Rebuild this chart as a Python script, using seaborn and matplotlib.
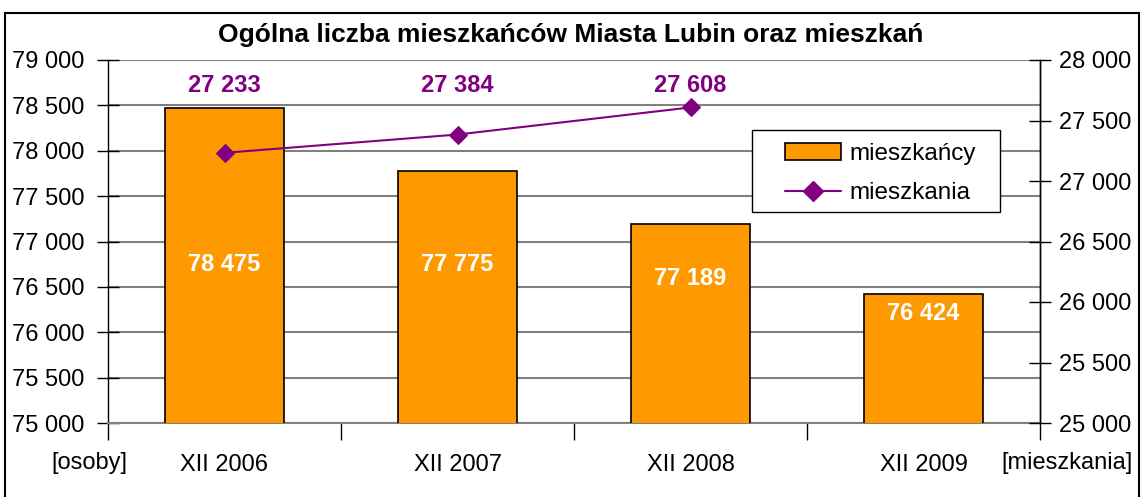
import matplotlib
matplotlib.use("Agg")
import matplotlib.pyplot as plt
import seaborn as sns
import pandas as pd
from matplotlib.patches import Rectangle
from matplotlib.lines import Line2D
from matplotlib.ticker import FuncFormatter, MultipleLocator, FixedLocator

categories = ["XII 2006", "XII 2007", "XII 2008", "XII 2009"]
mieszkancy = [78475, 77775, 77189, 76424]
mieszkania_cat = ["XII 2006", "XII 2007", "XII 2008"]
mieszkania = [27233, 27384, 27608]

title = "Ogólna liczba mieszkańców Miasta Lubin oraz mieszkań"
left_label = "[osoby]"
right_label = "[mieszkania]"

sns.set_theme(style="white")
plt.rcParams["font.family"] = ["Liberation Sans", "DejaVu Sans"]
plt.rcParams["text.color"] = "black"
plt.rcParams["xtick.color"] = "black"
plt.rcParams["ytick.color"] = "black"
plt.rcParams["axes.labelcolor"] = "black"

ORANGE = "#FF9900"
PURPLE = "#800080"
FS = 17
W, H = 1141, 497

fig = plt.figure(figsize=(W / 100, H / 100), dpi=100)
fig.patch.set_facecolor("white")
fig.add_artist(Rectangle((5 / W, -0.01), 1134 / W, 1 - 13 / H + 0.01,
                         transform=fig.transFigure, fill=False, edgecolor="black", lw=1.5))

ax = fig.add_axes([108 / W, 1 - 423 / H, (1040 - 108) / W, (423 - 60) / H])
df = pd.DataFrame({"kat": categories, "val": mieszkancy})
sns.barplot(data=df, x="kat", y="val", ax=ax, color=ORANGE, width=0.51,
            edgecolor="black", linewidth=1.2, saturation=1, zorder=3)
ax.set_ylim(75000, 79000)
ax.set_xlim(-0.5, 3.5)
ax.yaxis.set_major_locator(MultipleLocator(500))
fmt = FuncFormatter(lambda v, p: f"{int(v):,}".replace(",", " "))
ax.yaxis.set_major_formatter(fmt)
ax.grid(axis="y", color="#808080", lw=1.5, zorder=0)
ax.set_axisbelow(True)
ax.set_xlabel("")
ax.set_ylabel("")
ax.spines["top"].set_visible(False)
for s in ["left", "right"]:
    ax.spines[s].set_color("black")
    ax.spines[s].set_linewidth(1)
ax.spines["bottom"].set_color("#808080")
ax.spines["bottom"].set_linewidth(1.5)

ax.xaxis.set_major_locator(FixedLocator([-0.5, 0.5, 1.5, 2.5, 3.5]))
ax.xaxis.set_minor_locator(FixedLocator(list(range(len(categories)))))
ax.xaxis.set_major_formatter(FuncFormatter(lambda v, p: ""))
ax.xaxis.set_minor_formatter(FuncFormatter(lambda v, p: categories[int(round(v))]))
ax.tick_params(axis="x", which="major", direction="out", length=12, width=1, color="black", bottom=True)
ax.tick_params(axis="x", which="minor", length=0, pad=22, labelsize=FS)
ax.tick_params(axis="y", which="major", direction="inout", length=16, width=1, color="black",
               left=True, labelsize=FS, pad=9)

for i, v in enumerate(mieszkancy):
    ymid = min((75000 + v) / 2 + 500, 76750)
    ax.text(i, ymid, f"{v:,}".replace(",", " "), ha="center", va="center",
            color="white", fontsize=FS, fontweight="bold", zorder=5)

ax2 = ax.twinx()
ax2.set_position(ax.get_position())
dfl = pd.DataFrame({"kat": mieszkania_cat, "val": mieszkania})
sns.lineplot(data=dfl, x="kat", y="val", ax=ax2, color=PURPLE, lw=1.5, marker="D",
             markersize=9, markeredgecolor=PURPLE, sort=False, zorder=4)
ax2.set_ylim(25000, 28000)
ax2.set_xlim(-0.5, 3.5)
ax2.yaxis.set_major_locator(MultipleLocator(500))
ax2.yaxis.set_major_formatter(fmt)
ax2.set_xlabel("")
ax2.set_ylabel("")
ax2.tick_params(axis="y", direction="inout", length=16, width=1, color="black", right=True,
                labelsize=FS, pad=6)
for s in ["top", "left", "bottom"]:
    ax2.spines[s].set_visible(False)
ax2.spines["right"].set_color("black")
ax2.spines["right"].set_linewidth(1)

for i, v in enumerate(mieszkania):
    ax2.text(i, 27790, f"{v:,}".replace(",", " "), ha="center", va="center",
             color=PURPLE, fontsize=FS, fontweight="bold", zorder=5)


def axfrac(px, py):
    return ((px - 108) / (1040 - 108), (423 - py) / (423 - 60))


# legend frame
fx0, fy0 = axfrac(752, 212)
fx1, fy1 = axfrac(1000, 130)
ax2.add_patch(Rectangle((fx0, fy0), fx1 - fx0, fy1 - fy0, transform=ax2.transAxes,
                        facecolor="white", edgecolor="black", lw=1, zorder=6))

handles = [Rectangle((0, 0), 1, 1, facecolor=ORANGE, edgecolor="black", lw=1.2),
           Line2D([], [], color=PURPLE, lw=1.5, marker="D", markersize=10)]
leg = ax2.legend(handles, ["mieszkańcy", "mieszkania"], loc="upper left",
                 bbox_to_anchor=axfrac(785, 143), fontsize=17.5,
                 frameon=False, handlelength=2.3, handletextpad=0.35, borderpad=0,
                 labelspacing=0.7, borderaxespad=0)
leg.set_zorder(7)

fig.text(0.5, 1 - 35 / H, title, ha="center", va="center", fontsize=19, fontweight="bold")
fig.text(89 / W, 1 - 463 / H, left_label, ha="center", va="center", fontsize=FS)
fig.text(1067 / W, 1 - 463 / H, right_label, ha="center", va="center", fontsize=FS)

fig.savefig("out.png", dpi=100, facecolor="white")
